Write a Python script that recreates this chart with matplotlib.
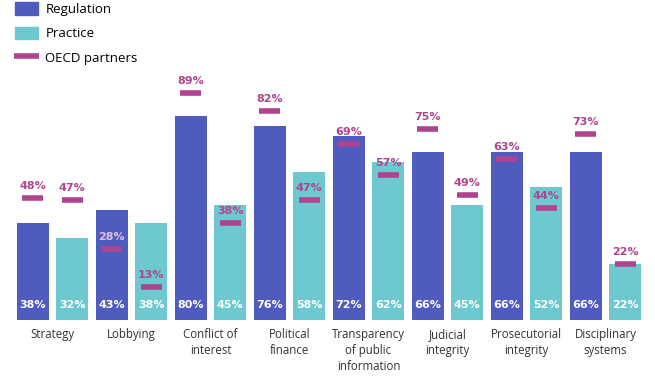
import matplotlib.pyplot as plt
import numpy as np
from matplotlib.patches import Patch
from matplotlib.lines import Line2D

categories = ['Strategy', 'Lobbying', 'Conflict of\ninterest', 'Political\nfinance',
              'Transparency\nof public\ninformation', 'Judicial\nintegrity',
              'Prosecutorial\nintegrity', 'Disciplinary\nsystems']
regulation = [38, 43, 80, 76, 72, 66, 66, 66]
practice = [32, 38, 45, 58, 62, 45, 52, 22]
oecd_regulation = [48, 28, 89, 82, 69, 75, 63, 73]
oecd_practice = [47, 13, 38, 47, 57, 49, 44, 22]

reg_color = '#4F5BBE'
prac_color = '#6DC9CF'
oecd_color = '#B0438F'

fig = plt.figure(figsize=(6.55, 3.76), dpi=100)
ax = fig.add_axes([13 / 655, 56 / 376, 632 / 655, 255 / 376])

g = np.arange(len(categories))
x_reg = 2 * g
x_prac = 2 * g + 1
w = 0.81

ax.bar(x_reg, regulation, width=w, color=reg_color)
ax.bar(x_prac, practice, width=w, color=prac_color)

# value labels inside the bars
for x, v in zip(np.concatenate([x_reg, x_prac]), regulation + practice):
    ax.text(x, 6, f'{v}%', ha='center', va='center', color='white',
            fontsize=8, fontweight='bold')

# OECD partner markers
for xs, vals, bars in [(x_reg, oecd_regulation, regulation),
                       (x_prac, oecd_practice, practice)]:
    ax.hlines(vals, xs - 0.27, xs + 0.27, color=oecd_color, lw=4)
    for x, v, b in zip(xs, vals, bars):
        # label sitting on a dark bar gets a lighter tint
        col = '#E2BFE3' if (bars is regulation and v + 8 < b) else oecd_color
        ax.annotate(f'{v}%', (x, v), xytext=(0, 5), textcoords='offset points',
                    ha='center', va='bottom', color=col,
                    fontsize=8, fontweight='bold')

ax.set_xlim(-0.5, 15.5)
ax.set_ylim(0, 100)
ax.set_xticks(2 * g + 0.5, labels=categories)
ax.tick_params(axis='x', length=0, pad=6, labelsize=8.3, labelcolor='#333333')
for lab in ax.get_xticklabels():
    lab.set_linespacing(1.3)
    lab.set_family(['Liberation Sans Narrow', 'Open Sans'])
ax.set_yticks([])
for s in ax.spines.values():
    s.set_visible(False)

handles = [Patch(color=reg_color), Patch(color=prac_color),
           Line2D([0], [0], color=oecd_color, marker='_', markersize=18,
                  markeredgewidth=4, linestyle='none')]
fig.legend(handles, ['Regulation', 'Practice', 'OECD partners'],
           loc='upper left', bbox_to_anchor=(0.005, 1.025), frameon=False,
           prop={'family': 'Open Sans', 'size': 9.5}, labelspacing=0.78,
           handlelength=1.7, handleheight=1.1, handletextpad=0.6)

fig.savefig('out.png', dpi=100)
